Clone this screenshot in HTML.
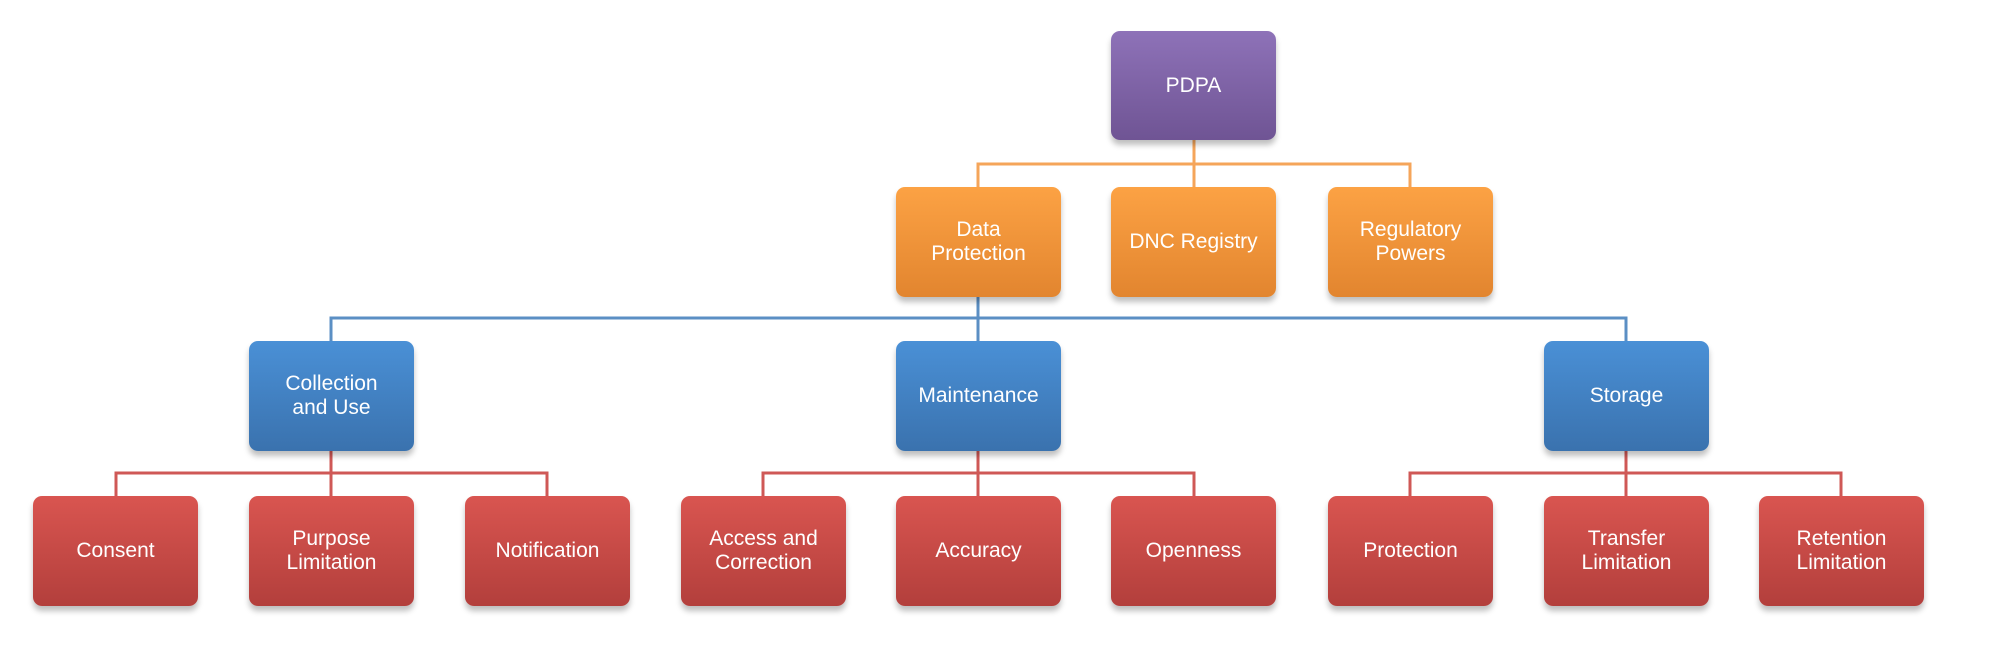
<!DOCTYPE html>
<html><head><style>
body{margin:0;width:1996px;height:647px;background:#fff;position:relative;overflow:hidden;font-family:"Liberation Sans",sans-serif}
.b{position:absolute;width:165px;height:110px;border-radius:9px;display:flex;align-items:center;justify-content:center;text-align:center;color:#fff;font-size:21px;line-height:24px;box-shadow:0 5px 6px rgba(0,0,0,0.25)}
.p{background:linear-gradient(#8e72b8,#6f5494)}
.o{background:linear-gradient(#fca244,#e2852f)}
.u{background:linear-gradient(#4a90d6,#3a72ae)}
.r{background:linear-gradient(#d95550,#b33f3c)}
.l{position:absolute}
</style></head><body>
<svg class="l" width="1996" height="647" style="left:0;top:0">
<g fill="none" stroke-width="3">
<path stroke="#f5a55a" d="M1194 140V187M978 187V164H1410V187"/>
<path stroke="#5b8fc4" d="M978 297V341M331 341V318H1626V341"/>
<path stroke="#cf5856" d="M331 451V496M116 496V473H547V496M978 451V496M763 496V473H1194V496M1626 451V496M1410 496V473H1841V496"/>
</g></svg>
<div class="b p" style="left:1111px;top:31px;height:109px">PDPA</div>
<div class="b o" style="left:896px;top:187px">Data<br>Protection</div>
<div class="b o" style="left:1111px;top:187px">DNC Registry</div>
<div class="b o" style="left:1328px;top:187px">Regulatory<br>Powers</div>
<div class="b u" style="left:249px;top:341px">Collection<br>and Use</div>
<div class="b u" style="left:896px;top:341px">Maintenance</div>
<div class="b u" style="left:1544px;top:341px">Storage</div>
<div class="b r" style="left:33px;top:496px">Consent</div>
<div class="b r" style="left:249px;top:496px">Purpose<br>Limitation</div>
<div class="b r" style="left:465px;top:496px">Notification</div>
<div class="b r" style="left:681px;top:496px">Access and<br>Correction</div>
<div class="b r" style="left:896px;top:496px">Accuracy</div>
<div class="b r" style="left:1111px;top:496px">Openness</div>
<div class="b r" style="left:1328px;top:496px">Protection</div>
<div class="b r" style="left:1544px;top:496px">Transfer<br>Limitation</div>
<div class="b r" style="left:1759px;top:496px">Retention<br>Limitation</div>
</body></html>
